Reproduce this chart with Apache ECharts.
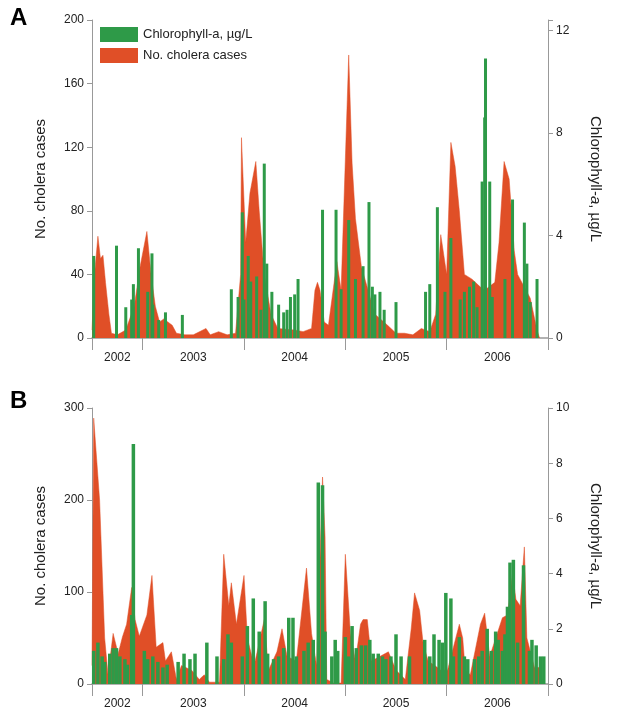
<!DOCTYPE html>
<html><head><meta charset="utf-8">
<script src="https://cdn.jsdelivr.net/npm/echarts@6/dist/echarts.min.js"></script>
<style>html,body{margin:0;padding:0;background:#fff}#c{width:631px;height:723px}</style>
</head><body><div id="c"></div>
<script>
// x = months since July 2002
const yearLabels = ['2002','2003','2004','2005','2006'];
const yearBounds = [0,6,18,30,42,54];
const yearCenters = [3,12,24,36,48];

const choleraA = [[0,5],[0.3,40],[0.7,64],[1.0,50],[1.3,52],[1.6,35],[2.0,15],[2.3,3],[3,2],[4,5],[5,20],[5.7,45],[6.5,67],[7,40],[7.5,20],[8,10],[8.5,12],[9.5,8],[10,3],[11,2],[12,2],[13.5,6],[14,2],[15,4],[16,2],[17,3],[17.6,40],[17.7,126],[18.2,60],[18.7,91],[19.4,111],[19.8,80],[20.4,40],[21.2,15],[22,6],[24,5],[25,4],[26,6],[26.4,30],[26.7,35],[27,30],[27.5,10],[28,8],[29,48],[29.5,30],[30.4,178],[30.8,110],[31.2,75],[31.9,45],[33.5,15],[35,8],[36,3],[37,3],[38,2],[39,6],[40,4],[40.7,15],[41.3,65],[42,40],[42.5,123],[43,108],[43.5,80],[44.1,40],[45,37],[46,32],[46.5,30],[47.7,35],[48.2,60],[48.8,111],[49.4,100],[50,55],[50.4,40],[51.9,25],[52.7,5],[53,0]];

const chlA = [[0.2,3.2],[2.9,3.6],[4.0,1.2],[4.7,1.5],[4.9,2.1],[5.5,3.5],[6.6,1.8],[7.1,3.3],[7.2,1.3],[7.9,0.7],[8.7,1.0],[10.7,0.9],[16.5,1.9],[17.3,1.6],[17.8,4.9],[18.0,1.5],[18.5,3.2],[18.8,2.2],[19.5,2.4],[20.0,1.1],[20.4,6.8],[20.7,2.9],[21.3,1.8],[22.1,1.3],[22.7,1.0],[23.1,1.1],[23.5,1.6],[24.0,1.7],[24.4,2.3],[27.3,5.0],[28.9,5.0],[29.5,1.9],[30.4,4.6],[31.2,2.3],[32.1,2.8],[32.8,5.3],[33.2,2.0],[33.5,1.7],[34.1,1.8],[34.6,1.1],[36.0,1.4],[39.5,1.8],[40.0,2.1],[40.9,5.1],[41.8,1.8],[42.5,3.9],[43.6,1.5],[44.1,1.8],[44.7,2.0],[45.2,2.2],[45.6,1.2],[46.2,6.1],[46.5,8.6],[46.6,10.9],[47.1,6.1],[47.4,1.6],[48.9,2.3],[49.8,5.4],[51.2,4.5],[51.5,2.9],[51.9,1.4],[52.7,2.3]];

const choleraB = [[0,20],[0.2,289],[0.9,200],[1.5,50],[1.9,10],[2.5,55],[3.1,33],[3.6,51],[4.1,65],[4.7,105],[5.1,70],[5.6,52],[6.5,75],[7.1,118],[7.6,40],[8.4,45],[8.7,25],[9.4,35],[10,5],[10.6,20],[11.8,15],[12.7,5],[13.3,10],[13.9,2],[15.1,2],[15.6,141],[16.2,85],[16.5,110],[17.1,65],[18,118],[18.4,50],[19.2,20],[20.4,70],[20.9,15],[21.9,35],[22.5,60],[23.1,30],[24.2,25],[25.4,126],[26,55],[26.6,20],[27.3,225],[27.6,160],[27.8,5],[28.6,1],[29.5,1],[30,141],[30.6,55],[31.2,25],[31.8,65],[32.1,70],[32.6,70],[33.1,25],[35.1,35],[36,15],[37.1,5],[37.8,60],[38.2,99],[38.8,80],[39.2,45],[39.8,25],[40.6,20],[41.3,15],[42.1,15],[43.5,65],[43.9,50],[44.2,15],[44.8,10],[46,65],[46.5,77],[47.1,30],[48.6,72],[49.2,75],[49.8,120],[50.2,92],[50.7,85],[51.2,149],[51.5,50],[52.4,18],[53.1,18],[53.4,0]];

const chlB = [[0.2,1.2],[0.7,1.5],[1.2,1.0],[1.5,0.8],[2.1,1.1],[2.5,1.3],[2.9,1.3],[3.3,1.0],[3.9,0.9],[4.2,0.7],[4.7,2.5],[4.9,8.7],[6.2,1.2],[6.6,0.9],[7.2,1.0],[7.8,0.8],[8.4,0.6],[8.9,0.7],[10.2,0.8],[10.9,1.1],[11.6,0.9],[12.2,1.1],[13.6,1.5],[14.8,1.0],[15.6,0.9],[16.1,1.8],[16.5,1.5],[17.8,1.0],[18.4,2.1],[19.1,3.1],[19.8,1.9],[20.5,3.0],[20.8,1.1],[21.5,0.9],[22.1,1.0],[22.7,1.3],[23.3,2.4],[23.8,2.4],[24.2,1.0],[25.1,1.2],[25.6,1.5],[26.2,1.6],[26.8,7.3],[27.3,7.2],[27.6,1.9],[28.4,1.0],[28.8,1.6],[29.1,1.2],[30,1.7],[30.4,1.0],[30.8,2.1],[31.3,1.3],[31.9,1.4],[32.4,1.4],[32.9,1.6],[33.3,1.1],[33.9,1.1],[34.4,1.0],[34.8,0.9],[35.4,1.0],[36,1.8],[36.6,1.0],[37.6,1.0],[39.4,1.6],[40,1.0],[40.5,1.8],[41.1,1.6],[41.5,1.5],[41.9,3.3],[42.5,3.1],[42.8,1.0],[43.5,1.7],[44.1,1.0],[44.5,0.9],[45.3,0.9],[45.8,1.0],[46.2,1.2],[46.8,2.0],[47.3,1.2],[47.8,1.9],[48.1,1.6],[48.6,1.2],[48.9,1.8],[49.2,2.8],[49.5,4.4],[49.9,4.5],[50.4,1.5],[51.1,4.3],[51.8,1.2],[52.1,1.6],[52.6,1.4],[53.1,1.0],[53.5,1.0]];

const GREEN='#2e9a48', RED='#e04f27', AX='#999', TXT='#222';
const FONT='Liberation Sans';
const chart = echarts.init(document.getElementById('c'));

function xAx(i){return {type:'value',gridIndex:i,min:0,max:54,offset:12,
  axisLine:{show:true,lineStyle:{color:AX,width:1.5}},
  axisTick:{show:true,customValues:yearBounds,length:12,lineStyle:{color:AX}},
  axisLabel:{customValues:yearCenters,color:TXT,fontSize:12,fontFamily:FONT,margin:2,
    formatter:v=>yearLabels[yearCenters.indexOf(v)]||''},
  splitLine:{show:false}};}
function yL(i,max,intv){return {type:'value',gridIndex:i,min:0,max:max,interval:intv,position:'left',
  name:'No. cholera cases',nameLocation:'middle',nameGap:44,nameRotate:90,
  nameTextStyle:{fontSize:15,color:TXT,fontFamily:FONT},
  axisLine:{show:true,lineStyle:{color:AX}},axisTick:{show:true,length:5,lineStyle:{color:AX}},
  axisLabel:{color:TXT,fontSize:12,fontFamily:FONT},splitLine:{show:false}};}
function yR(i,max,intv,top){return {type:'value',gridIndex:i,min:0,max:max,interval:intv,position:'right',
  name:'{n|Chlorophyll-}{i|a}{n|, µg/L}',nameLocation:'middle',nameGap:40,nameRotate:-90,
  nameTextStyle:{rich:{n:{fontSize:15,color:TXT,fontFamily:FONT},i:{fontSize:15,color:TXT,fontFamily:FONT,fontStyle:'italic'}}},
  axisLine:{show:true,lineStyle:{color:AX}},axisTick:{show:true,length:5,lineStyle:{color:AX}},
  axisLabel:{color:TXT,fontSize:12,fontFamily:FONT,formatter:v=>(v%intv===0&&v<=top)?String(v):''},
  splitLine:{show:false}};}

chart.setOption({
  animation:false,
  grid:[{left:92,right:83,top:20,height:318},{left:92,right:83,top:408,height:276}],
  xAxis:[xAx(0),xAx(1)],
  yAxis:[yL(0,200,40),yR(0,12.4,4,12),yL(1,300,100),yR(1,10,2,10)],
  legend:{left:95,top:22,orient:'vertical',itemWidth:38,itemHeight:15,itemGap:6,
    textStyle:{fontSize:13,color:TXT,fontFamily:FONT},
    data:[{name:'Chlorophyll-a, µg/L',icon:'rect'},{name:'No. cholera cases',icon:'rect'}]},
  graphic:[
    {type:'text',left:10,top:6,style:{text:'A',font:'bold 24px '+FONT,fill:'#000'}},
    {type:'text',left:10,top:389,style:{text:'B',font:'bold 24px '+FONT,fill:'#000'}}
  ],
  series:[
    {name:'No. cholera cases',type:'line',xAxisIndex:0,yAxisIndex:0,data:choleraA,symbol:'none',z:1,
      lineStyle:{width:0.5,color:RED},areaStyle:{color:RED,opacity:1},itemStyle:{color:RED}},
    {name:'Chlorophyll-a, µg/L',type:'bar',xAxisIndex:0,yAxisIndex:1,data:chlA,barWidth:3,z:5,itemStyle:{color:GREEN}},
    {name:'No. cholera cases',type:'line',xAxisIndex:1,yAxisIndex:2,data:choleraB,symbol:'none',z:1,
      lineStyle:{width:0.5,color:RED},areaStyle:{color:RED,opacity:1},itemStyle:{color:RED}},
    {name:'Chlorophyll-a, µg/L',type:'bar',xAxisIndex:1,yAxisIndex:3,data:chlB,barWidth:3.5,z:5,itemStyle:{color:GREEN}}
  ]
});
</script></body></html>
